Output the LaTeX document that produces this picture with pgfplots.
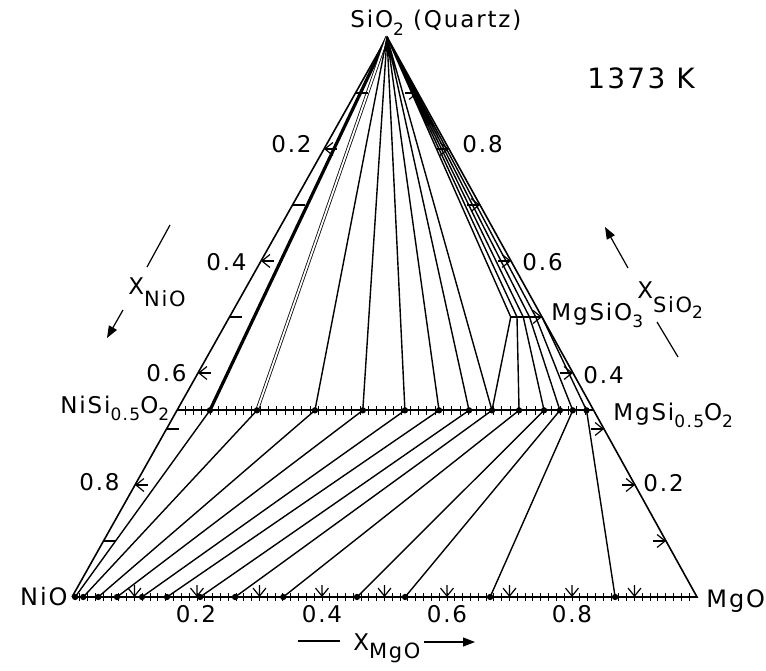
\documentclass[border=0pt]{standalone}
\usepackage{fontspec}
\setmainfont{DejaVu Sans}[LetterSpace=8]
\usepackage{pgfplots}
\pgfplotsset{compat=1.18}
\usetikzlibrary{arrows.meta}
\newcommand{\sub}[1]{\raisebox{-0.6ex}{\fontsize{8.5}{9}\selectfont #1}}
\newcommand{\xsub}[2]{\raisebox{#1}{\fontsize{10.5}{12}\selectfont #2}}
\begin{document}
\begin{tikzpicture}[lab/.style={font=\fontsize{11.5}{13}\selectfont, inner sep=0pt}]
\begin{axis}[overlay, at={(0,0)}, anchor=origin,
  x={(312.5pt,0pt)}, y={(157.5pt,280pt)},
  xmin=0, xmax=1, ymin=0, ymax=1, hide axis, clip=false,
  unbounded coords=jump,
  every axis plot/.append style={black, line width=0.7pt}]
% triangle NiO - MgO - SiO2
\addplot[mark=none, line width=0.8pt] coordinates {(0,0) (1,0) (0,1) (0,0)};
% orthosilicate (olivine) join  NiSi0.5O2 - MgSi0.5O2
\addplot[mark=none, line width=1pt] coordinates {(0,0.3333) (0.6667,0.3333)};
% pyroxene range (Ni,Mg)SiO3
\addplot[mark=none, line width=1pt] coordinates {(0.45,0.5) (0.5,0.5)};
% quartz - olivine tie lines
\addplot[mark=none, line width=1.6pt] coordinates {(0,1) (0.0527,0.3333)};
\addplot[mark=none, line width=0.4pt, double, double distance=0.9pt] coordinates {(0,1) (0.128,0.3333)};
\addplot[mark=none] coordinates {(0,1) (0.2207,0.3333) (nan,nan)
 (0,1) (0.2973,0.3333) (nan,nan) (0,1) (0.3647,0.3333) (nan,nan)
 (0,1) (0.4193,0.3333) (nan,nan) (0,1) (0.4673,0.3333) (nan,nan)
 (0,1) (0.5040,0.3333)};
% quartz - pyroxene tie lines
\addplot[mark=none] coordinates {(0,1) (0.45,0.5) (nan,nan) (0,1) (0.46,0.5) (nan,nan)
 (0,1) (0.47,0.5) (nan,nan) (0,1) (0.48,0.5) (nan,nan) (0,1) (0.49,0.5)};
% pyroxene - olivine tie lines
\addplot[mark=none] coordinates {(0.45,0.5) (0.5040,0.3333) (nan,nan)
 (0.46,0.5) (0.5473,0.3333) (nan,nan) (0.47,0.5) (0.5873,0.3333) (nan,nan)
 (0.48,0.5) (0.6127,0.3333) (nan,nan) (0.49,0.5) (0.6333,0.3333) (nan,nan)
 (0.5,0.5) (0.6553,0.3333)};
% olivine - rock salt tie lines
\addplot[mark=none] coordinates {
 (0.0527,0.3333) (0.005,0) (nan,nan) (0.1280,0.3333) (0.018,0) (nan,nan)
 (0.2207,0.3333) (0.042,0) (nan,nan) (0.2973,0.3333) (0.072,0) (nan,nan)
 (0.3647,0.3333) (0.112,0) (nan,nan) (0.4193,0.3333) (0.152,0) (nan,nan)
 (0.4673,0.3333) (0.205,0) (nan,nan) (0.5040,0.3333) (0.261,0) (nan,nan)
 (0.5473,0.3333) (0.338,0) (nan,nan) (0.5873,0.3333) (0.456,0) (nan,nan)
 (0.6127,0.3333) (0.533,0) (nan,nan) (0.6333,0.3333) (0.669,0) (nan,nan)
 (0.6553,0.3333) (0.869,0)};
% end points
\addplot[only marks, mark=*, mark size=1.2pt] coordinates {
 (0.0527,0.3333) (0.1280,0.3333) (0.2207,0.3333) (0.2973,0.3333) (0.3647,0.3333)
 (0.4193,0.3333) (0.4673,0.3333) (0.5040,0.3333) (0.5473,0.3333) (0.5873,0.3333)
 (0.6127,0.3333) (0.6333,0.3333) (0.6553,0.3333)
 (0.005,0) (0.018,0) (0.042,0) (0.072,0) (0.112,0) (0.152,0) (0.205,0)
 (0.261,0) (0.338,0) (0.456,0) (0.533,0) (0.669,0) (0.869,0)};
% fine division marks on the olivine join
\addplot[only marks, mark=|, mark size=2.3pt, mark options={line width=0.5pt}] coordinates {
 (0.0133,0.3333) (0.0267,0.3333) (0.04,0.3333) (0.0533,0.3333) (0.0667,0.3333)
 (0.08,0.3333) (0.0933,0.3333) (0.1067,0.3333) (0.12,0.3333) (0.1333,0.3333)
 (0.1467,0.3333) (0.16,0.3333) (0.1733,0.3333) (0.1867,0.3333) (0.2,0.3333)
 (0.2133,0.3333) (0.2267,0.3333) (0.24,0.3333) (0.2533,0.3333) (0.2667,0.3333)
 (0.28,0.3333) (0.2933,0.3333) (0.3067,0.3333) (0.32,0.3333) (0.3333,0.3333)
 (0.3467,0.3333) (0.36,0.3333) (0.3733,0.3333) (0.3867,0.3333) (0.4,0.3333)
 (0.4133,0.3333) (0.4267,0.3333) (0.44,0.3333) (0.4533,0.3333) (0.4667,0.3333)
 (0.48,0.3333) (0.4933,0.3333) (0.5067,0.3333) (0.52,0.3333) (0.5333,0.3333)
 (0.5467,0.3333) (0.56,0.3333) (0.5733,0.3333) (0.5867,0.3333) (0.6,0.3333)
 (0.6133,0.3333) (0.6267,0.3333) (0.64,0.3333) (0.6533,0.3333)};
% fine division marks on the NiO-MgO join
\addplot[only marks, mark=|, mark size=2pt, mark options={line width=0.5pt}] coordinates {
 (0.0125,0) (0.025,0) (0.0375,0) (0.05,0) (0.0625,0) (0.075,0) (0.0875,0) (0.1,0)
 (0.1125,0) (0.125,0) (0.1375,0) (0.15,0) (0.1625,0) (0.175,0) (0.1875,0) (0.2,0)
 (0.2125,0) (0.225,0) (0.2375,0) (0.25,0) (0.2625,0) (0.275,0) (0.2875,0) (0.3,0)
 (0.3125,0) (0.325,0) (0.3375,0) (0.35,0) (0.3625,0) (0.375,0) (0.3875,0) (0.4,0)
 (0.4125,0) (0.425,0) (0.4375,0) (0.45,0) (0.4625,0) (0.475,0) (0.4875,0) (0.5,0)
 (0.5125,0) (0.525,0) (0.5375,0) (0.55,0) (0.5625,0) (0.575,0) (0.5875,0) (0.6,0)
 (0.6125,0) (0.625,0) (0.6375,0) (0.65,0) (0.6625,0) (0.675,0) (0.6875,0) (0.7,0)
 (0.7125,0) (0.725,0) (0.7375,0) (0.75,0) (0.7625,0) (0.775,0) (0.7875,0) (0.8,0)
 (0.8125,0) (0.825,0) (0.8375,0) (0.85,0) (0.8625,0) (0.875,0) (0.8875,0) (0.9,0)
 (0.9125,0) (0.925,0) (0.9375,0) (0.95,0) (0.9625,0) (0.975,0) (0.9875,0)};
% scale ticks (arrows pointing to the edges)
\addplot[quiver={u=\thisrow{u}, v=\thisrow{v},
  every arrow/.append style={-{Straight Barb[length=4pt,width=6.5pt]}}},
  line width=0.6pt] table {
x y u v
0.0208 0.8 -0.0208 0
0.0208 0.6 -0.0208 0
0.0208 0.4 -0.0208 0
0.0208 0.2 -0.0208 0
0.0792 0.9 0.0208 0
0.1792 0.8 0.0208 0
0.2792 0.7 0.0208 0
0.3792 0.6 0.0208 0
0.4792 0.5 0.0208 0
0.5792 0.4 0.0208 0
0.6792 0.3 0.0208 0
0.7792 0.2 0.0208 0
0.8792 0.1 0.0208 0
0.0892 0.0214 0.0108 -0.0214
0.1892 0.0214 0.0108 -0.0214
0.2892 0.0214 0.0108 -0.0214
0.3892 0.0214 0.0108 -0.0214
0.4892 0.0214 0.0108 -0.0214
0.5892 0.0214 0.0108 -0.0214
0.6892 0.0214 0.0108 -0.0214
0.7892 0.0214 0.0108 -0.0214
0.8892 0.0214 0.0108 -0.0214
};
\addplot[quiver={u=\thisrow{u}, v=\thisrow{v}}, line width=0.6pt] table {
x y u v
0 0.9 0.0192 0
0 0.7 0.0192 0
0 0.5 0.0192 0
0 0.3 0.0192 0
0 0.1 0.0192 0
};
\end{axis}
\begin{scope}[x=0.5pt, y=-0.5pt, shift={(-36pt,298.5pt)}]
\path[use as bounding box] (0,0) rectangle (766,670);
\node[lab, anchor=base west] at (350,28) {SiO\sub{2} (Quartz)};
\node[lab, anchor=base west, font=\fontsize{14}{16}\selectfont] at (587,89) {1373 K};
% left scale (X NiO)
\node[lab, anchor=base east] at (312,153) {0.2};
\node[lab, anchor=base east] at (247,270) {0.4};
\node[lab, anchor=base east] at (187,381) {0.6};
\node[lab, anchor=base east] at (120,490) {0.8};
% right scale (X SiO2)
\node[lab, anchor=base west] at (462,153) {0.8};
\node[lab, anchor=base west] at (522,270) {0.6};
\node[lab, anchor=base west] at (583,383) {0.4};
\node[lab, anchor=base west] at (643,491) {0.2};
% bottom scale (X MgO)
\node[lab, anchor=base] at (196,622) {0.2};
\node[lab, anchor=base] at (322,622) {0.4};
\node[lab, anchor=base] at (447,622) {0.6};
\node[lab, anchor=base] at (572,622) {0.8};
% compounds
\node[lab, anchor=base east, font=\fontsize{12}{14}\selectfont] at (68,605) {NiO};
\node[lab, anchor=base west, font=\fontsize{12}{14}\selectfont] at (706,607) {MgO};
\node[lab, anchor=base west] at (60,413) {NiSi\sub{0.5}O\sub{2}};
\node[lab, anchor=base west] at (613,420) {MgSi\sub{0.5}O\sub{2}};
\node[lab, anchor=base west] at (551,320) {MgSiO\sub{3}};
% axis titles
\node[lab, anchor=base west] at (128,295) {X\xsub{-6pt}{NiO}};
\draw[line width=0.6pt] (170,225) -- (147,267);
\draw[line width=0.6pt, -{Triangle[length=6pt,width=4.5pt]}] (123,310) -- (107,338);
\node[lab, anchor=base west] at (637,298) {X\xsub{-7pt}{SiO\sub{2}}};
\draw[line width=0.6pt, -{Triangle[length=6pt,width=4.5pt]}] (628,268) -- (605,227);
\draw[line width=0.6pt] (657,322) -- (678,357);
\node[lab, anchor=base west] at (353,650) {X\xsub{-4pt}{MgO}};
\draw[line width=0.6pt] (298,641) -- (340,641);
\draw[line width=0.6pt, -{Triangle[length=6pt,width=4.5pt]}] (424,642) -- (475,642);
\end{scope}
\end{tikzpicture}
\end{document}
